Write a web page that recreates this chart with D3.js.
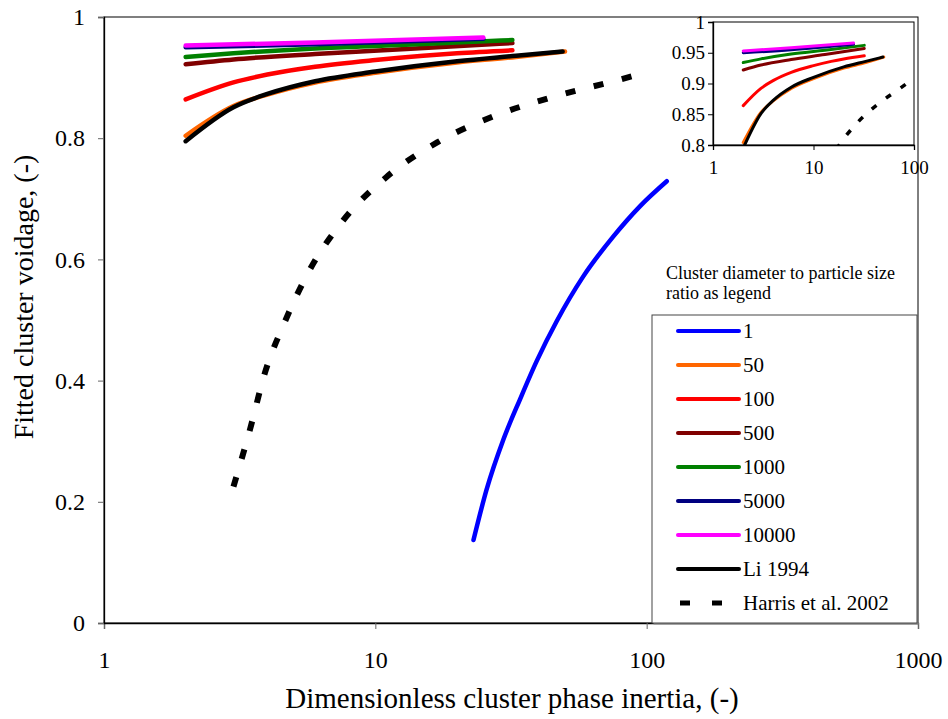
<!DOCTYPE html>
<html>
<head>
<meta charset="utf-8">
<script src="https://cdnjs.cloudflare.com/ajax/libs/d3/7.8.5/d3.min.js"></script>
<style>
  body { margin: 0; background: #fff; }
  svg text { font-family: "Liberation Serif", "Times New Roman", serif; fill: #000; }
</style>
</head>
<body>
<div id="chart"></div>
<script>
// series values
const ratio1X = [23, 25.7, 29.6, 34.2, 39.4, 46.6, 58.4, 75.4, 94.6, 118.6];
const ratio1Y = [0.137, 0.220, 0.302, 0.370, 0.433, 0.498, 0.572, 0.638, 0.688, 0.729];

const ratio50X = [2, 3, 4, 6, 10, 20, 33, 50];
const ratio50Y = [0.804, 0.853, 0.872, 0.892, 0.908, 0.925, 0.934, 0.943];

const ratio100X = [2, 3, 4, 6, 10, 15, 20, 32];
const ratio100Y = [0.864, 0.892, 0.905, 0.918, 0.929, 0.936, 0.940, 0.945];

const ratio500X = [2, 3, 6, 13, 32];
const ratio500Y = [0.922, 0.930, 0.939, 0.947, 0.957];

const ratio1000X = [2, 3, 6, 13, 32];
const ratio1000Y = [0.934, 0.940, 0.948, 0.954, 0.962];

const ratio5000X = [2, 6, 25];
const ratio5000Y = [0.950, 0.955, 0.964];

const ratio10000X = [2, 6, 25];
const ratio10000Y = [0.953, 0.958, 0.966];

const liX = [2, 3, 4, 6, 10, 20, 33, 49];
const liY = [0.795, 0.851, 0.873, 0.894, 0.910, 0.927, 0.936, 0.943];

const harrisX = [3, 3.45, 3.92, 4.65, 5.75, 7.6, 11, 16.9, 27.2, 45.9, 78.5, 100];
const harrisY = [0.225, 0.319, 0.413, 0.498, 0.584, 0.664, 0.736, 0.793, 0.836, 0.869, 0.896, 0.909];

const legendLabels = ["1", "50", "100", "500", "1000", "5000", "10000", "Li 1994", "Harris et al. 2002"];
const colors = ["#0000ff", "#ff6600", "#ff0000", "#800000", "#008000", "#000080", "#ff00ff", "#000000", "#000000"];

const mainXTicks = [1, 10, 100, 1000];
const mainYTicks = [0, 0.2, 0.4, 0.6, 0.8, 1];
const insetXTicks = [1, 10, 100];
const insetYTicks = [0.8, 0.85, 0.9, 0.95, 1];

const zip = (xs, ys) => xs.map((x, i) => ({ x: x, y: ys[i] }));
const series = [
    zip(ratio1X, ratio1Y),
    zip(ratio50X, ratio50Y),
    zip(ratio100X, ratio100Y),
    zip(ratio500X, ratio500Y),
    zip(ratio1000X, ratio1000Y),
    zip(ratio5000X, ratio5000Y),
    zip(ratio10000X, ratio10000Y),
    zip(liX, liY),
    zip(harrisX, harrisY)
];

const W = 948, H = 719;
const serif = "'Liberation Serif', 'Times New Roman', serif";
const margin = { top: 17, right: 30, bottom: 96, left: 104 },
      width = W - margin.left - margin.right,
      height = H - margin.top - margin.bottom;

const root = d3.select("#chart").append("svg")
    .attr("width", W)
    .attr("height", H);

const svg = root.append("g")
    .attr("transform", `translate(${margin.left},${margin.top})`);

const x = d3.scaleLog().domain([1, 1000]).range([0, width]);
const y = d3.scaleLinear().domain([0, 1]).range([height, 0]);

// plot frame
svg.append("rect")
    .attr("width", width)
    .attr("height", height)
    .attr("fill", "none")
    .attr("stroke", "#000")
    .attr("stroke-width", 1);

const xAxis = svg.append("g")
    .attr("transform", `translate(0,${height})`)
    .call(d3.axisBottom(x).tickValues(mainXTicks).tickFormat(d3.format("d")).tickSize(6).tickPadding(22));
const yAxis = svg.append("g")
    .call(d3.axisLeft(y).tickValues(mainYTicks).tickFormat(d => d === 0 || d === 1 ? d3.format("d")(d) : d).tickSize(6).tickPadding(13));

[xAxis, yAxis].forEach(a => {
    a.select(".domain").attr("stroke", "#000").attr("stroke-width", 1.3);
    a.selectAll(".tick line").attr("stroke", "#666");
    a.selectAll(".tick text")
        .style("font-family", serif)
        .style("font-size", "24px")
        .attr("fill", "#000");
});

svg.append("text")
    .attr("text-anchor", "middle")
    .attr("x", 512 - margin.left)
    .attr("y", height + 85)
    .style("font-family", serif)
    .style("font-size", "29px")
    .text("Dimensionless cluster phase inertia, (-)");

svg.append("text")
    .attr("text-anchor", "middle")
    .attr("transform", "rotate(-90)")
    .attr("x", -(297 - margin.top))
    .attr("y", -71)
    .style("font-family", serif)
    .style("font-size", "28px")
    .text("Fitted cluster voidage, (-)");

const line = d3.line().x(d => x(d.x)).y(d => y(d.y)).curve(d3.curveMonotoneX);

svg.selectAll(".series")
    .data(series)
    .enter()
    .append("path")
    .attr("class", "series")
    .attr("d", line)
    .attr("fill", "none")
    .attr("stroke", (d, i) => colors[i])
    .attr("stroke-width", (d, i) => i === 8 ? 6 : 4.5)
    .attr("stroke-linecap", (d, i) => i === 8 ? "butt" : "round")
    .attr("stroke-dasharray", (d, i) => i === 8 ? "10,19" : null);

// legend
const legX = 652 - margin.left, legY = 315 - margin.top;
svg.append("text")
    .attr("x", 666 - margin.left)
    .attr("y", 279 - margin.top)
    .style("font-family", serif)
    .style("font-size", "18px")
    .text("Cluster diameter to particle size");
svg.append("text")
    .attr("x", 666 - margin.left)
    .attr("y", 299 - margin.top)
    .style("font-family", serif)
    .style("font-size", "18px")
    .text("ratio as legend");

svg.append("rect")
    .attr("x", legX + 1.5)
    .attr("y", legY + 1.5)
    .attr("width", 265)
    .attr("height", 308)
    .attr("fill", "#888");
svg.append("rect")
    .attr("x", legX)
    .attr("y", legY)
    .attr("width", 265)
    .attr("height", 308)
    .attr("fill", "#fff")
    .attr("stroke", "#444")
    .attr("stroke-width", 1);

const leg = svg.selectAll(".leg")
    .data(legendLabels)
    .enter()
    .append("g")
    .attr("class", "leg")
    .attr("transform", (d, i) => `translate(${678 - margin.left},${331 - margin.top + i * 34})`);

leg.append("line")
    .attr("x1", (d, i) => i === 8 ? 2 : 0)
    .attr("x2", (d, i) => i === 8 ? 44 : 61)
    .attr("stroke", (d, i) => colors[i])
    .attr("stroke-width", (d, i) => i === 8 ? 5 : 4)
    .attr("stroke-linecap", (d, i) => i === 8 ? "butt" : "round")
    .attr("stroke-dasharray", (d, i) => i === 8 ? "10,22" : null);

leg.append("text")
    .attr("x", 65)
    .attr("dy", "0.35em")
    .style("font-family", serif)
    .style("font-size", "21px")
    .text(d => d);

// inset
const inset = { left: 713, top: 22, width: 201, height: 123 };
const ig = root.append("g")
    .attr("transform", `translate(${inset.left},${inset.top})`);

const xi = d3.scaleLog().domain([1, 100]).range([0, inset.width]);
const yi = d3.scaleLinear().domain([0.8, 1]).range([inset.height, 0]);

ig.append("clipPath").attr("id", "insetClip")
    .append("rect").attr("width", inset.width).attr("height", inset.height);

ig.append("rect")
    .attr("width", inset.width)
    .attr("height", inset.height)
    .attr("fill", "#fff")
    .attr("stroke", "#000")
    .attr("stroke-width", 1);

const ixAxis = ig.append("g")
    .attr("transform", `translate(0,${inset.height})`)
    .call(d3.axisBottom(xi).tickValues(insetXTicks).tickFormat(d3.format("d")).tickSize(5).tickPadding(11));
const iyAxis = ig.append("g")
    .call(d3.axisLeft(yi).tickValues(insetYTicks).tickFormat(d => d === 1 ? "1" : d).tickSize(5).tickPadding(3));

[ixAxis, iyAxis].forEach(a => {
    a.select(".domain").attr("stroke", "#000").attr("stroke-width", 1.3);
    a.selectAll(".tick line").attr("stroke", "#000");
    a.selectAll(".tick text")
        .style("font-family", serif)
        .style("font-size", "19px")
        .attr("fill", "#000");
});

const iline = d3.line().x(d => xi(d.x)).y(d => yi(d.y)).curve(d3.curveMonotoneX);

ig.append("g")
    .attr("clip-path", "url(#insetClip)")
    .selectAll(".iseries")
    .data(series.slice(1))
    .enter()
    .append("path")
    .attr("class", "iseries")
    .attr("d", iline)
    .attr("fill", "none")
    .attr("stroke", (d, i) => colors[i + 1])
    .attr("stroke-width", (d, i) => i === 7 ? 3.5 : 3)
    .attr("stroke-linecap", (d, i) => i === 7 ? "butt" : "round")
    .attr("stroke-dasharray", (d, i) => i === 7 ? "6,12" : null);
</script>
</body>
</html>
